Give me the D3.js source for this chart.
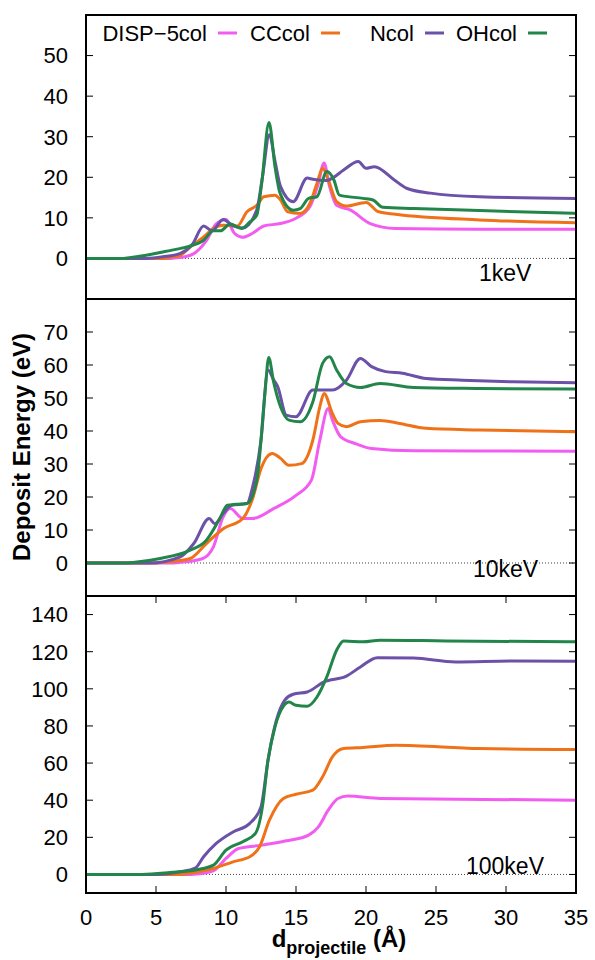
<!DOCTYPE html>
<html>
<head>
<meta charset="utf-8">
<style>
  body { margin: 0; background: #fff; }
  text { font-family: "Liberation Sans", Arial, sans-serif; }
</style>
</head>
<body>
<svg id="chart" width="595" height="960"></svg>
<script src="https://d3js.org/d3.v7.min.js"></script>
<script>
// series names / colours (legend order)
var names = ["DISP\u22125col", "CCcol", "Ncol", "OHcol"];
var colors = ["#f25cf0", "#f07218", "#6b52a8", "#22854a"];
var xTicks = [0, 5, 10, 15, 20, 25, 30, 35];

// 1keV panel, [d, E] pairs
var disp1 = [[0,0],[6.0,0],[6.7,0.2],[7.6,1.0],[8.6,4.4],[9.3,8.5],[10.0,9.6],[10.6,6.2],[11.2,5.2],[11.9,6.2],[12.7,8.0],[13.9,8.6],[15.0,9.9],[16.0,12.8],[16.6,18.5],[17.0,23.5],[17.4,17.7],[17.9,13.1],[18.9,11.9],[20.3,8.6],[22.1,7.4],[28.1,7.2],[35,7.2]];
var cc1 = [[0,0],[5.5,0],[6.0,0.3],[6.7,0.7],[7.4,2.7],[8.4,5.3],[9.1,7.4],[9.8,8.2],[10.8,8.0],[11.5,11.5],[12.2,13.1],[12.7,15.2],[13.5,15.6],[13.9,14.4],[14.4,11.5],[15.3,11.1],[16.0,13.6],[16.5,18.5],[16.9,22.2],[17.3,19.4],[17.9,14.0],[18.6,12.9],[20.0,13.8],[20.9,11.5],[22.1,10.9],[28.1,9.5],[35,8.8]];
var n1 = [[0,0],[4.3,0],[5.5,0.4],[6.7,1.2],[7.6,3.5],[8.4,8.0],[9.0,6.8],[9.8,9.6],[10.5,8.0],[11.2,7.5],[12.2,12.0],[12.6,20.0],[13.1,30.5],[13.5,24.0],[13.9,17.7],[14.8,14.0],[15.8,19.8],[16.2,19.5],[17.2,19.2],[17.6,19.8],[18.4,21.8],[19.45,23.9],[20.0,22.2],[20.6,22.6],[22.0,19.4],[22.9,17.3],[24.6,16.1],[28.1,15.2],[35,14.8]];
var oh1 = [[0,0],[2.5,0],[3.1,0.2],[4.3,0.8],[5.5,1.6],[6.5,2.3],[7.4,3.0],[8.4,4.5],[9.1,6.8],[9.6,6.8],[10.3,8.5],[11.1,7.4],[11.7,9.0],[12.2,10.7],[12.55,18.5],[13.07,33.5],[13.5,22.6],[13.86,16.1],[14.8,11.9],[15.3,12.3],[15.9,14.8],[16.5,15.2],[17.2,21.4],[17.7,19.4],[18.1,15.6],[19.8,14.8],[20.5,14.4],[21.2,12.6],[23.4,12.3],[28.1,11.8],[35,11.1]];

// 10keV panel
var disp2 = [[0,0],[6.0,0],[6.7,0.2],[8.3,1.3],[9.1,4.9],[9.8,14.0],[10.3,16.5],[11.2,13.5],[11.9,13.5],[13.4,16.5],[15.0,20.5],[16.1,25.1],[16.7,37.2],[17.3,46.8],[17.6,43.3],[18.2,38.2],[19.3,36.1],[20.4,34.7],[23.4,34.0],[35,33.9]];
var cc2 = [[0,0],[5.0,0],[5.7,0.3],[7.4,1.3],[8.6,5.9],[9.8,10.4],[11.2,13.5],[11.9,19.5],[12.5,28.6],[13.3,33.2],[13.9,31.7],[14.5,29.6],[15.4,30.1],[16.2,37.2],[16.7,47.3],[17.0,51.4],[17.6,45.3],[18.0,42.3],[18.6,41.3],[19.6,42.8],[21.0,43.2],[22.4,42.3],[24.3,40.8],[28.1,40.3],[35,39.8]];
var n2 = [[0,0],[4.5,0],[6.7,1.8],[7.7,5.9],[8.8,13.5],[9.2,11.9],[9.8,15.0],[10.4,17.5],[11.5,18.0],[11.9,23.0],[12.5,37.2],[13.0,58.5],[13.4,55.5],[13.7,53.4],[14.3,44.8],[15.0,44.3],[16.2,52.4],[17.6,52.4],[18.6,55.4],[19.6,62.0],[20.4,59.5],[21.4,58.0],[22.6,57.5],[24.3,55.9],[26.9,55.4],[30.5,54.9],[35,54.6]];
var oh2 = [[0,0],[3.0,0],[3.5,0.2],[5.2,1.3],[7.4,3.8],[8.6,6.9],[9.5,13.0],[10.1,17.5],[10.7,17.8],[11.5,18.0],[12.2,25.1],[12.8,52.4],[13.05,62.3],[13.4,54.9],[13.9,47.3],[14.5,43.3],[15.3,42.8],[16.2,48.8],[16.9,60.5],[17.4,62.5],[17.9,58.5],[18.6,54.4],[19.6,53.2],[21.0,54.4],[23.4,53.2],[28.1,52.9],[35,52.7]];

// 100keV panel
var disp3 = [[0,0],[7.0,0],[7.9,0.3],[9.1,2.0],[10.0,8.6],[10.9,14.0],[12.6,15.8],[14.3,18.1],[15.9,21.2],[16.6,25.6],[17.3,34.6],[18.0,40.9],[18.7,42.2],[21.0,40.9],[35,40.0]];
var cc3 = [[0,0],[6.5,0],[7.4,0.7],[9.1,3.2],[10.5,6.8],[11.7,9.5],[12.4,14.9],[13.1,29.2],[14.1,40.9],[15.0,43.2],[16.2,45.4],[16.9,52.6],[17.6,63.3],[18.4,67.8],[19.8,68.4],[22.1,69.6],[28.1,67.8],[35,67.3]];
var n3 = [[0,0],[5.0,0],[6.7,1.4],[7.8,3.4],[8.4,9.5],[9.3,16.7],[10.5,22.9],[11.7,27.5],[12.5,36.4],[13.0,61.5],[13.6,83.1],[14.2,93.9],[14.8,97.1],[15.8,98.3],[17.0,103.7],[18.6,106.8],[19.6,111.8],[20.8,116.8],[23.4,116.6],[26.4,114.5],[30.5,115.0],[35,114.8]];
var oh3 = [[0,0],[4.0,0],[6.0,1.0],[7.9,2.5],[9.1,5.0],[10.0,13.1],[11.2,17.6],[12.1,22.1],[12.6,36.4],[13.0,61.5],[13.5,79.5],[14.1,90.6],[14.5,92.9],[15.0,91.1],[15.8,90.6],[16.5,95.6],[17.2,106.4],[17.9,120.8],[18.4,125.8],[19.8,125.3],[21.0,126.2],[25.7,125.8],[35,125.3]];

var panels = [
  {top: 15,  bottom: 299, domain: [-10, 60],  ticks: d3.range(0, 51, 10),  label: "1keV",   lx: 479, ly: 281, series: [disp1, cc1, n1, oh1]},
  {top: 299, bottom: 596, domain: [-10, 80],  ticks: d3.range(0, 71, 10),  label: "10keV",  lx: 473, ly: 577, series: [disp2, cc2, n2, oh2]},
  {top: 596, bottom: 893, domain: [-10, 150], ticks: d3.range(0, 141, 20), label: "100keV", lx: 466, ly: 874, series: [disp3, cc3, n3, oh3]}
];

var svg = d3.select("svg");
var left = 86, right = 576;
var fs = 22;

var x = d3.scaleLinear().domain([0, 35]).range([left, right]);

panels.forEach(function(p, pi) {
  var y = d3.scaleLinear().domain(p.domain).range([p.bottom, p.top]);
  var g = svg.append("g");

  // zero line
  g.append("line")
    .attr("x1", left).attr("x2", right)
    .attr("y1", y(0)).attr("y2", y(0))
    .attr("stroke", "#444").attr("stroke-width", 1)
    .attr("stroke-dasharray", "1,2");

  // y ticks, left and right, inward
  p.ticks.forEach(function(t) {
    g.append("line").attr("x1", left).attr("x2", left + 7)
      .attr("y1", y(t)).attr("y2", y(t)).attr("stroke", "#000").attr("stroke-width", 1);
    g.append("line").attr("x1", right).attr("x2", right - 7)
      .attr("y1", y(t)).attr("y2", y(t)).attr("stroke", "#000").attr("stroke-width", 1);
    g.append("text").attr("x", 68).attr("y", y(t)).attr("dy", "0.36em")
      .attr("text-anchor", "end").attr("font-size", fs).text(t);
  });

  // x ticks on the bottom panel only
  if (pi == 2) {
    xTicks.forEach(function(t) {
      g.append("line").attr("x1", x(t)).attr("x2", x(t))
        .attr("y1", p.bottom).attr("y2", p.bottom - 7).attr("stroke", "#000");
      g.append("line").attr("x1", x(t)).attr("x2", x(t))
        .attr("y1", p.top).attr("y2", p.top + 7).attr("stroke", "#000");
      g.append("text").attr("x", x(t)).attr("y", 925)
        .attr("text-anchor", "middle").attr("font-size", fs).text(t);
    });
  }

  var line = d3.line()
    .x(function(d) { return x(d[0]); })
    .y(function(d) { return y(d[1]); })
    .curve(d3.curveMonotoneX);

  p.series.forEach(function(s, i) {
    g.append("path").datum(s)
      .attr("d", line)
      .attr("fill", "none")
      .attr("stroke", colors[i])
      .attr("stroke-width", 3)
      .attr("stroke-linejoin", "round");
  });

  g.append("text").attr("x", p.lx).attr("y", p.ly)
    .attr("font-size", 23).text(p.label);

  g.append("rect")
    .attr("x", left).attr("y", p.top)
    .attr("width", right - left).attr("height", p.bottom - p.top)
    .attr("fill", "none").attr("stroke", "#000").attr("stroke-width", 2);
});

// legend
var keyX = [218, 321, 425, 528];
names.forEach(function(n, i) {
  svg.append("line").attr("x1", keyX[i]).attr("x2", keyX[i] + 19)
    .attr("y1", 33).attr("y2", 33)
    .attr("stroke", colors[i]).attr("stroke-width", 3);
  svg.append("text").attr("x", keyX[i] - 11).attr("y", 41)
    .attr("text-anchor", "end").attr("font-size", fs).text(n);
});

// axis labels
svg.append("text")
  .attr("transform", "translate(30,447) rotate(-90)")
  .attr("text-anchor", "middle")
  .attr("font-size", 24).attr("font-weight", "bold")
  .text("Deposit Energy (eV)");

var xl = svg.append("text")
  .attr("x", 339).attr("y", 947)
  .attr("text-anchor", "middle")
  .attr("font-size", 24).attr("font-weight", "bold");
xl.append("tspan").text("d");
xl.append("tspan").attr("font-size", 18).attr("dy", 7).text("projectile");
xl.append("tspan").attr("dy", -7).text(" (\u00c5)");
</script>
</body>
</html>
